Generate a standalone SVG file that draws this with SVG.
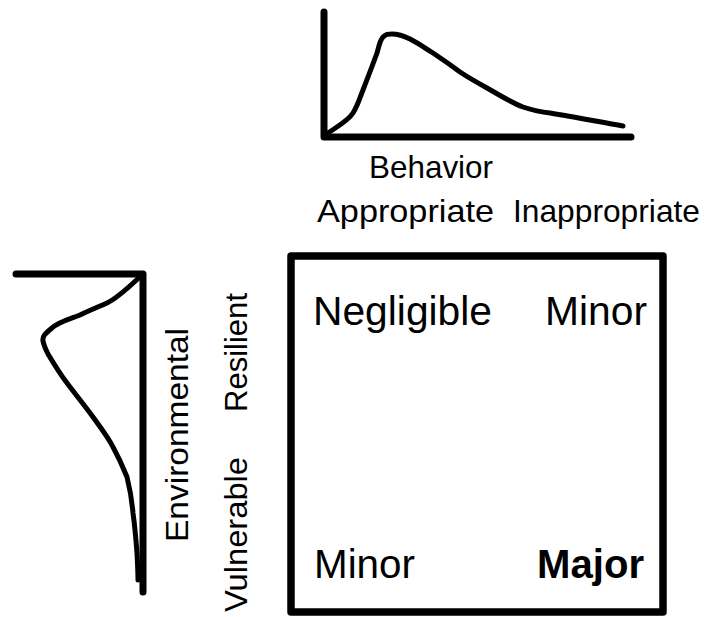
<svg xmlns="http://www.w3.org/2000/svg" width="704" height="617" viewBox="0 0 704 617">
<style>
.axis{fill:none;stroke:#000;stroke-width:7;stroke-linecap:round;stroke-linejoin:round}
.curve{fill:none;stroke:#000;stroke-width:5;stroke-linecap:round;stroke-linejoin:round}
.t{font-family:"Liberation Sans",Arial,sans-serif;fill:#000}
.q{font-size:40px}
.a{font-size:32px}
.v{font-size:32px}
</style>
<rect width="704" height="617" fill="#fff"/>
<g id="behavior-chart">
<path class="axis" d="M324,12 L324,137 L631,137"/>
<path class="curve" d="M325,135 C338,126 348,121 353,113 C358,105 360,97 363,90 C368,77 373,64 377,53 C379,46 380,40 383,37 C386,34 388,34 392,34 C398,34 404,36 410,39 C418,43 425,48 433,53 C442,59 452,66 460,72 C469,78 478,83 487,88 C498,94 510,102 523,107 C532,110 540,112 550,113 C575,117 600,122 623,126"/>
<text class="t a" x="369" y="178" textLength="124" lengthAdjust="spacingAndGlyphs">Behavior</text>
</g>
<g id="behavior-levels">
<text class="t a" x="317" y="222" textLength="177" lengthAdjust="spacingAndGlyphs">Appropriate</text>
<text class="t a" x="513" y="222" textLength="187" lengthAdjust="spacingAndGlyphs">Inappropriate</text>
</g>
<g id="environment-chart">
<path class="axis" d="M16,274 L143,274 L143,592"/>
<path class="curve" d="M143,274 C130,286 118,298 107,303 C98,307 88,311 80,315 C70,319 58,322 52,328 C46,333 42,336 43,341 C44,346 46,350 48,354 C54,364 60,374 67,383 C76,395 85,406 93,417 C101,428 108,437 113,447 C119,458 123,467 127,477 C130,489 132,501 133,513 C135,527 136,540 137,553 C137.5,563 138,572 138,580"/>
<text class="t v" transform="translate(188,542) rotate(-90)" textLength="214" lengthAdjust="spacingAndGlyphs">Environmental</text>
</g>
<g id="environment-levels">
<text class="t v" transform="translate(247,412) rotate(-90)" textLength="119" lengthAdjust="spacingAndGlyphs">Resilient</text>
<text class="t v" transform="translate(247,612) rotate(-90)" textLength="155" lengthAdjust="spacingAndGlyphs">Vulnerable</text>
</g>
<g id="matrix">
<rect x="291" y="256" width="372" height="356" fill="none" stroke="#000" stroke-width="7.5" stroke-linejoin="round"/>
<text class="t q" x="313" y="325" textLength="179" lengthAdjust="spacingAndGlyphs">Negligible</text>
<text class="t q" x="545" y="325" textLength="102" lengthAdjust="spacingAndGlyphs">Minor</text>
<text class="t q" x="314" y="578" textLength="101" lengthAdjust="spacingAndGlyphs">Minor</text>
<text class="t q" x="537" y="578" font-weight="bold" textLength="107" lengthAdjust="spacingAndGlyphs">Major</text>
</g>
</svg>
